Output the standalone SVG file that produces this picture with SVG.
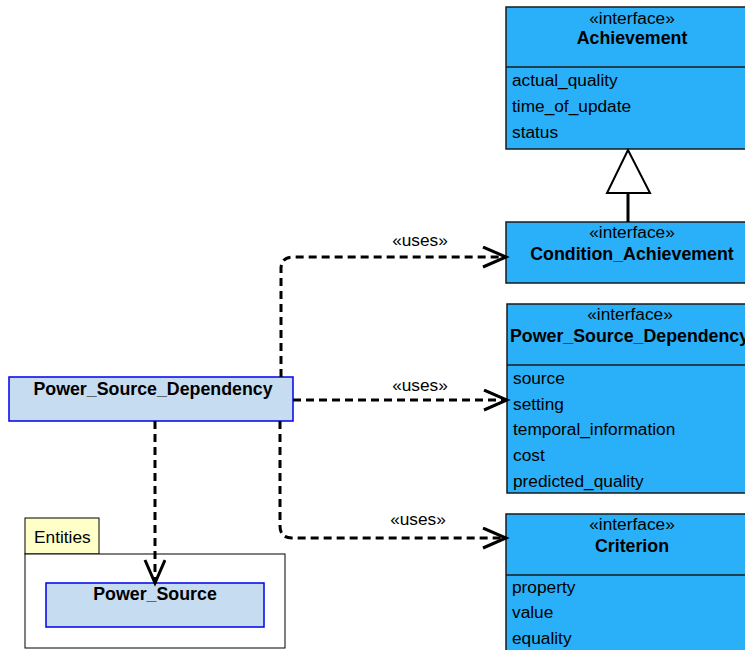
<svg xmlns="http://www.w3.org/2000/svg" width="745" height="650" viewBox="0 0 745 650">
  <style>
    text { font-family: "Liberation Sans", Arial, sans-serif; font-size: 17.3px; fill: #000; }
    .b { font-weight: bold; font-size: 17.8px; }
    .c { text-anchor: middle; }
    .iface { fill: #29b0f9; stroke: #1a1a1a; stroke-width: 1.5; }
    .cls { fill: #c6dcf0; stroke: #0000ee; stroke-width: 1.5; }
    .sep { stroke: #1a1a1a; stroke-width: 1.5; }
    .dep { fill: none; stroke: #000; stroke-width: 3; stroke-dasharray: 8 5; }
    .solid { fill: none; stroke: #000; stroke-width: 3; }
  </style>
  <defs>
    <marker id="open" markerUnits="userSpaceOnUse" markerWidth="30" markerHeight="24" refX="24" refY="11" orient="auto">
      <path d="M1,1 L24,11 L1,21" fill="none" stroke="#000" stroke-width="3"/>
    </marker>
  </defs>

  <rect width="745" height="650" fill="#fff"/>

  <!-- interface Achievement -->
  <g id="achievement">
    <rect class="iface" x="506" y="7" width="256" height="142"/>
    <line class="sep" x1="506" y1="67" x2="762" y2="67"/>
    <text class="c" x="632" y="24">«interface»</text>
    <text class="b c" x="632" y="44">Achievement</text>
    <text x="512" y="86">actual_quality</text>
    <text x="512" y="112">time_of_update</text>
    <text x="512" y="138">status</text>
  </g>

  <!-- interface Condition_Achievement -->
  <g id="condition-achievement">
    <rect class="iface" x="506" y="222" width="256" height="61"/>
    <text class="c" x="632" y="238">«interface»</text>
    <text class="b c" x="632" y="260">Condition_Achievement</text>
  </g>

  <!-- interface Power_Source_Dependency -->
  <g id="psd-interface">
    <rect class="iface" x="507" y="304" width="256" height="189"/>
    <line class="sep" x1="507" y1="365" x2="763" y2="365"/>
    <text class="c" x="630" y="320">«interface»</text>
    <text class="b" x="510" y="342">Power_Source_Dependency</text>
    <text x="513" y="384">source</text>
    <text x="513" y="410">setting</text>
    <text x="513" y="435">temporal_information</text>
    <text x="513" y="461">cost</text>
    <text x="513" y="487">predicted_quality</text>
  </g>

  <!-- interface Criterion -->
  <g id="criterion">
    <rect class="iface" x="506" y="514" width="256" height="150"/>
    <line class="sep" x1="506" y1="575" x2="762" y2="575"/>
    <text class="c" x="632" y="530">«interface»</text>
    <text class="b c" x="632" y="552">Criterion</text>
    <text x="512" y="593">property</text>
    <text x="512" y="618">value</text>
    <text x="512" y="644">equality</text>
  </g>

  <!-- class Power_Source_Dependency -->
  <g id="psd-class">
    <rect class="cls" x="9" y="377" width="284" height="44"/>
    <text class="b c" x="153" y="395">Power_Source_Dependency</text>
  </g>

  <!-- package Entities -->
  <g id="entities">
    <rect x="25" y="518" width="74" height="36" fill="#ffffc8" stroke="#000" stroke-width="1"/>
    <rect x="25" y="554" width="260" height="94" fill="#fff" stroke="#000" stroke-width="1"/>
    <text x="34" y="543">Entities</text>
    <g id="power-source">
      <rect class="cls" x="46" y="583" width="218" height="44"/>
      <text class="b c" x="155" y="600">Power_Source</text>
    </g>
  </g>

  <!-- connectors -->
  <g id="connectors">
    <polyline class="solid" points="628,222 628,193"/>
    <polygon points="628,150 607,193 650,193" fill="#fff" stroke="#000" stroke-width="2"/>

    <path class="dep" d="M281,377 V269 Q281,257 293,257 H506" marker-end="url(#open)"/>
    <path class="dep" d="M293,400 H507" marker-end="url(#open)"/>
    <path class="dep" d="M280,421 V526 Q280,538 292,538 H506" marker-end="url(#open)"/>
    <path class="dep" d="M155,421 V583" marker-end="url(#open)"/>

    <text class="c" x="420" y="246">«uses»</text>
    <text class="c" x="420" y="391">«uses»</text>
    <text class="c" x="418" y="525">«uses»</text>
  </g>
</svg>
